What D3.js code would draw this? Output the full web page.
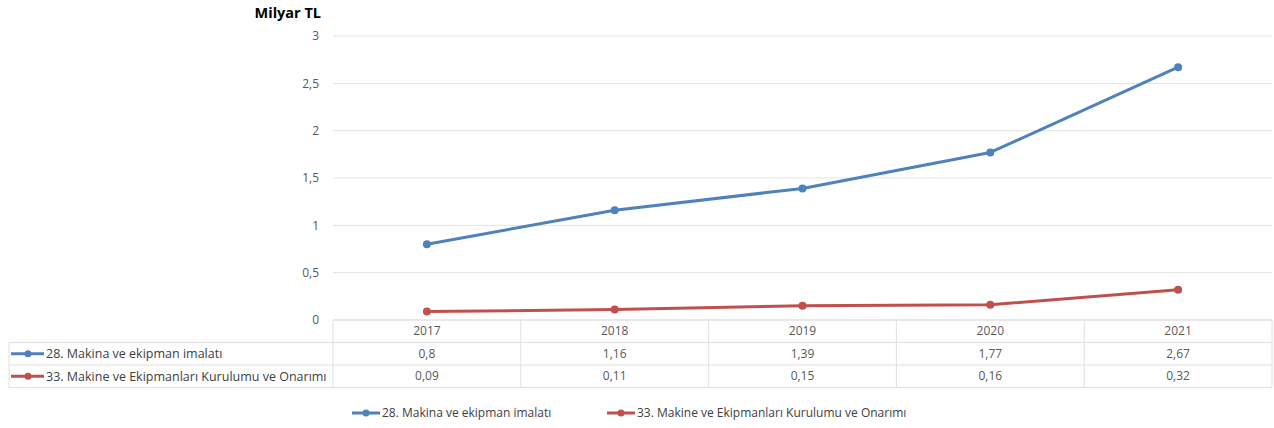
<!DOCTYPE html>
<html>
<head>
<meta charset="utf-8">
<script src="https://cdn.jsdelivr.net/npm/d3@7"></script>
<style>
  body { margin: 0; background: #fff; }
  svg { display: block; font-family: "Open Sans", sans-serif; }
</style>
</head>
<body>
<div id="chart"></div>
<script>
const years = ["2017", "2018", "2019", "2020", "2021"];
const makina = [0.8, 1.16, 1.39, 1.77, 2.67];
const onarim = [0.09, 0.11, 0.15, 0.16, 0.32];
const seriesNames = ["28. Makina ve ekipman imalatı", "33. Makine ve Ekipmanları Kurulumu ve Onarımı"];
const yTicks = [0, 0.5, 1, 1.5, 2, 2.5, 3];

const colors = ["#4f81bd", "#c0504d"];
const series = [
  {name: seriesNames[0], values: makina, color: colors[0]},
  {name: seriesNames[1], values: onarim, color: colors[1]}
];

const W = 1274, H = 428;
const plotL = 333, plotR = 1272, plotT = 36, plotB = 320;
const rowH = 22.5;
const fmt = v => String(v).replace(".", ",");

const svg = d3.select("#chart").append("svg").attr("width", W).attr("height", H);

const x = d3.scaleBand().domain(years).range([plotL, plotR]);
const y = d3.scaleLinear().domain([0, 3]).range([plotB, plotT]);

// gridlines + y labels
svg.append("g").selectAll("line").data(yTicks).enter().append("line")
  .attr("x1", plotL).attr("x2", plotR)
  .attr("y1", d => y(d)).attr("y2", d => y(d))
  .attr("stroke", "#e3e3e3").attr("stroke-width", 1);

svg.append("g").selectAll("text").data(yTicks).enter().append("text")
  .attr("x", 319).attr("y", d => y(d)).attr("dy", "0.35em")
  .attr("text-anchor", "end").attr("font-size", 12).attr("fill", "#595959")
  .text(d => fmt(d));

svg.append("text").attr("x", 321).attr("y", 18)
  .attr("text-anchor", "end").attr("font-size", 14.5).attr("font-weight", "bold")
  .attr("fill", "#000").text("Milyar TL");

// data table
const tg = svg.append("g").attr("stroke", "#e0e0e0").attr("fill", "none");
const tBottom = plotB + rowH * 3;
tg.append("line").attr("x1", plotL).attr("x2", plotR).attr("y1", plotB).attr("y2", plotB);
[1, 2, 3].forEach(i => {
  tg.append("line").attr("x1", 9).attr("x2", plotR)
    .attr("y1", plotB + rowH * i).attr("y2", plotB + rowH * i);
});
tg.append("line").attr("x1", 9).attr("x2", 9).attr("y1", plotB + rowH).attr("y2", tBottom);
years.forEach(yr => {
  tg.append("line").attr("x1", x(yr)).attr("x2", x(yr)).attr("y1", plotB).attr("y2", tBottom);
});
tg.append("line").attr("x1", plotR).attr("x2", plotR).attr("y1", plotB).attr("y2", tBottom);

svg.append("g").selectAll("text").data(years).enter().append("text")
  .attr("x", d => x(d) + x.bandwidth() / 2).attr("y", plotB + rowH / 2).attr("dy", "0.35em")
  .attr("text-anchor", "middle").attr("font-size", 12).attr("fill", "#595959").text(d => d);

series.forEach((s, i) => {
  const cy = plotB + rowH * (i + 1.5);
  const row = svg.append("g");
  row.append("line").attr("x1", 11).attr("x2", 44).attr("y1", cy).attr("y2", cy)
    .attr("stroke", s.color).attr("stroke-width", 3);
  row.append("circle").attr("cx", 28).attr("cy", cy).attr("r", 3.5).attr("fill", s.color);
  row.append("text").attr("x", 46).attr("y", cy).attr("dy", "0.35em")
    .attr("font-size", 12.5).attr("fill", "#404040").text(s.name);
  row.selectAll("text.v").data(s.values).enter().append("text").attr("class", "v")
    .attr("x", (d, j) => x(years[j]) + x.bandwidth() / 2).attr("y", cy).attr("dy", "0.35em")
    .attr("text-anchor", "middle").attr("font-size", 12).attr("fill", "#595959")
    .text(d => fmt(d));
});

// lines
const line = d3.line().x((d, j) => x(years[j]) + x.bandwidth() / 2).y(d => y(d));
series.forEach(s => {
  svg.append("path").datum(s.values).attr("d", line)
    .attr("fill", "none").attr("stroke", s.color).attr("stroke-width", 3)
    .attr("stroke-linejoin", "round").attr("stroke-linecap", "round");
  svg.append("g").selectAll("circle").data(s.values).enter().append("circle")
    .attr("cx", (d, j) => x(years[j]) + x.bandwidth() / 2).attr("cy", d => y(d))
    .attr("r", 4).attr("fill", s.color);
});

// legend
const legendX = [352, 607];
series.forEach((s, i) => {
  const g = svg.append("g").attr("transform", `translate(${legendX[i]},413)`);
  g.append("line").attr("x1", 0).attr("x2", 28).attr("y1", 0).attr("y2", 0)
    .attr("stroke", s.color).attr("stroke-width", 3);
  g.append("circle").attr("cx", 14).attr("cy", 0).attr("r", 3.5).attr("fill", s.color);
  g.append("text").attr("x", 30).attr("y", 0).attr("dy", "0.35em")
    .attr("font-size", 12).attr("fill", "#404040").text(s.name);
});
</script>
</body>
</html>
